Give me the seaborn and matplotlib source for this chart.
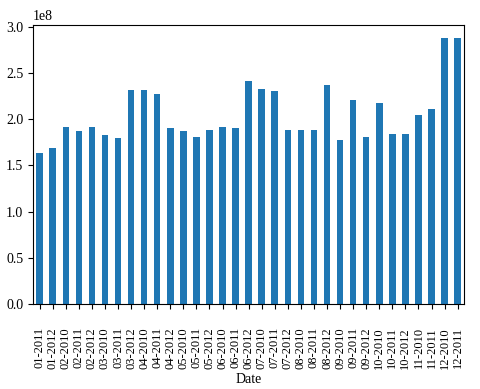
import matplotlib
matplotlib.use("Agg")
import matplotlib.pyplot as plt
import seaborn as sns
import pandas as pd

dates = ["01-2011", "01-2012", "02-2010", "02-2011", "02-2012", "03-2010", "03-2011",
         "03-2012", "04-2010", "04-2011", "04-2012", "05-2010", "05-2011", "05-2012",
         "06-2010", "06-2011", "06-2012", "07-2010", "07-2011", "07-2012", "08-2010",
         "08-2011", "08-2012", "09-2010", "09-2011", "09-2012", "10-2010", "10-2011",
         "10-2012", "11-2010", "11-2011", "12-2010", "12-2011"]
values_1e8 = [1.63, 1.69, 1.91, 1.87, 1.92, 1.83, 1.80, 2.31, 2.31, 2.27, 1.90, 1.87,
              1.81, 1.88, 1.92, 1.90, 2.41, 2.33, 2.30, 1.88, 1.88, 1.88, 2.37, 1.77,
              2.21, 1.81, 2.18, 1.84, 1.84, 2.04, 2.11, 2.88, 2.88]

df = pd.DataFrame({"Date": dates, "Value": [v * 1e8 for v in values_1e8]})

plt.rcParams['font.family'] = ['Liberation Serif', 'DejaVu Serif']
plt.rcParams['font.size'] = 10

fig, ax = plt.subplots(figsize=(4.8, 3.89), dpi=100)
sns.barplot(data=df, x="Date", y="Value", color="#1f77b4", width=0.5, ax=ax,
            saturation=1, edgecolor="none")
ax.set_xlim(-0.5, len(dates) - 0.5)
ax.set_ylim(0, max(df["Value"]) * 1.05)
ax.set_ylabel("")
ax.set_xlabel("Date", labelpad=3)
ax.tick_params(axis='x', rotation=90, pad=13, labelsize=9)
fig.subplots_adjust(left=0.069, right=0.967, top=0.937, bottom=0.2185)
fig.savefig("out.png", dpi=100)
